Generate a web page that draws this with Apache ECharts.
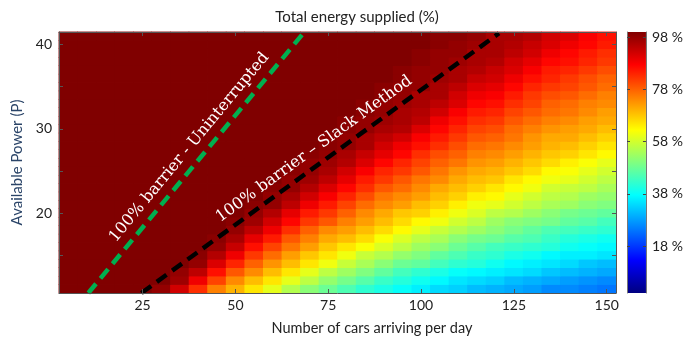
<!DOCTYPE html>
<html><head><meta charset="utf-8">
<script src="https://cdn.jsdelivr.net/npm/echarts@6/dist/echarts.min.js"></script>
<style>html,body{margin:0;padding:0;background:#fff}#c{width:686px;height:337px}</style>
</head><body><div id="c"></div>
<script>
// Number of cars arriving per day (column centres)
const cars = [5,10,15,20,25,30,35,40,45,50,55,60,65,70,75,80,85,90,95,100,105,110,115,120,125,130,135,140,145,150];
// Available power (row centres)
const powers = [11,12,13,14,15,16,17,18,19,20,21,22,23,24,25,26,27,28,29,30,31,32,33,34,35,36,37,38,39,40,41];
// Total energy supplied (%) per power row, one value per car column
const p11 = [100,100,100,100,100,98,92,83,75,70,65,60,55,51,48,45,42,40,38,36,34,33,31,30,29,28,26,26,25,24];
const p12 = [100,100,100,100,100,100,97,89,81,74,69,65,60,56,52,49,46,43,41,39,37,35,34,33,31,30,29,28,27,26];
const p13 = [100,100,100,100,100,100,98,94,86,79,74,69,65,60,56,53,50,47,44,42,40,38,37,36,35,34,32,31,30,29];
const p14 = [100,100,100,100,100,100,100,98,91,84,78,73,69,65,61,57,54,51,48,47,44,42,41,39,37,36,35,34,32,31];
const p15 = [100,100,100,100,100,100,100,99,95,89,82,77,72,68,65,61,57,55,52,50,47,45,43,42,40,39,37,36,36,35];
const p16 = [100,100,100,100,100,100,100,100,98,93,86,81,76,72,68,65,62,59,56,53,51,48,46,44,43,42,41,39,38,37];
const p17 = [100,100,100,100,100,100,100,100,99,96,90,85,79,75,71,69,66,62,59,56,54,51,49,48,46,45,43,41,40,39];
const p18 = [100,100,100,100,100,100,100,100,100,98,94,89,83,78,74,72,69,66,63,60,57,55,53,51,49,47,45,44,43,42];
const p19 = [100,100,100,100,100,100,100,100,100,99,97,92,87,82,79,75,72,69,66,63,61,58,56,53,51,50,49,47,46,44];
const p20 = [100,100,100,100,100,100,100,100,100,100,98,95,90,85,82,78,74,71,68,67,64,61,59,56,55,53,51,49,48,47];
const p21 = [100,100,100,100,100,100,100,100,100,100,99,98,94,89,85,81,77,74,72,69,67,64,61,60,58,56,54,53,51,50];
const p22 = [100,100,100,100,100,100,100,100,100,100,100,98,96,92,88,84,80,76,74,72,69,67,64,63,60,58,56,55,53,52];
const p23 = [100,100,100,100,100,100,100,100,100,100,100,99,98,95,91,87,83,79,77,74,71,69,67,65,63,61,58,57,56,54];
const p24 = [100,100,100,100,100,100,100,100,100,100,100,100,98,97,94,90,85,82,79,76,74,71,69,68,65,63,61,60,58,56];
const p25 = [100,100,100,100,100,100,100,100,100,100,100,100,99,98,96,92,88,84,82,79,76,73,71,70,68,66,63,62,60,58];
const p26 = [100,100,100,100,100,100,100,100,100,100,100,100,100,98,97,95,91,87,84,81,78,76,73,72,70,68,66,64,62,60];
const p27 = [100,100,100,100,100,100,100,100,100,100,100,100,100,99,98,96,93,90,87,83,80,78,75,74,72,70,68,67,65,63];
const p28 = [100,100,100,100,100,100,100,100,100,100,100,100,100,100,99,98,96,92,89,86,83,80,77,76,74,72,70,69,67,65];
const p29 = [100,100,100,100,100,100,100,100,100,100,100,100,100,100,99,98,96,94,92,88,85,82,79,78,76,73,71,71,69,67];
const p30 = [100,100,100,100,100,100,100,100,100,100,100,100,100,100,100,99,98,96,95,91,87,84,81,80,77,75,73,72,71,69];
const p31 = [100,100,100,100,100,100,100,100,100,100,100,100,100,100,100,99,98,97,96,94,89,86,83,82,79,77,75,74,72,71];
const p32 = [100,100,100,100,100,100,100,100,100,100,100,100,100,100,100,100,99,98,96,95,92,88,85,84,81,79,77,76,74,72];
const p33 = [100,100,100,100,100,100,100,100,100,100,100,100,100,100,100,100,99,98,97,96,94,91,87,86,83,81,78,77,75,74];
const p34 = [100,100,100,100,100,100,100,100,100,100,100,100,100,100,100,100,100,99,98,96,96,92,89,88,85,82,80,79,77,75];
const p35 = [100,100,100,100,100,100,100,100,100,100,100,100,100,100,100,100,100,99,98,98,96,94,91,90,87,84,82,81,79,77];
const p36 = [100,100,100,100,100,100,100,100,100,100,100,100,100,100,100,100,100,100,99,98,97,96,93,92,89,86,84,82,80,78];
const p37 = [100,100,100,100,100,100,100,100,100,100,100,100,100,100,100,100,100,100,99,98,98,96,95,93,91,88,85,84,82,80];
const p38 = [100,100,100,100,100,100,100,100,100,100,100,100,100,100,100,100,100,100,100,99,98,97,96,95,92,90,87,86,84,82];
const p39 = [100,100,100,100,100,100,100,100,100,100,100,100,100,100,100,100,100,100,100,99,98,98,96,96,94,92,89,87,85,83];
const p40 = [100,100,100,100,100,100,100,100,100,100,100,100,100,100,100,100,100,100,100,100,99,98,97,96,95,93,91,89,87,85];
const p41 = [100,100,100,100,100,100,100,100,100,100,100,100,100,100,100,100,100,100,100,100,99,99,98,96,96,95,92,91,88,86];
const rows = [p11,p12,p13,p14,p15,p16,p17,p18,p19,p20,p21,p22,p23,p24,p25,p26,p27,p28,p29,p30,p31,p32,p33,p34,p35,p36,p37,p38,p39,p40,p41];

// Axis ticks / labels
const xTicks = [25,50,75,100,125,150];
const yLabels = [20,30,40];
const yTicks = [15,20,25,30,35,40];
const cbTicks = [18,38,58,78,98];

// 100% barrier lines (cars, power)
const uninterruptedLine = [[10.4,10.5],[68.2,41.3]];
const slackLine = [[24.7,10.5],[121,41.35]];

const heat = [];
rows.forEach((r, i) => r.forEach((v, j) => heat.push([j, i, v])));

const jet = ['#000080','#0000ff','#0080ff','#00ffff','#80ff80','#ffff00','#ff8000','#ff0000','#800000'];
const FONT = 'Lato';
const AX = '#555';
const txt = {fontFamily: FONT, fontSize: 14, color: '#222'};

const chart = echarts.init(document.getElementById('c'), null, {renderer: 'canvas'});
const tickOnly = (extra) => Object.assign({
  z: 10,
  axisLine: {show: true, onZero: false, lineStyle: {color: AX, width: 1}},
  axisTick: {show: true, inside: true, length: 4, lineStyle: {color: AX}},
  axisLabel: {show: false},
  splitLine: {show: false}
}, extra);
const heatSeries = () => ({type: 'heatmap', xAxisIndex: 0, yAxisIndex: 0, data: heat,
  itemStyle: {borderWidth: 0}, emphasis: {disabled: true}, silent: true});

chart.setOption({
  animation: false,
  textStyle: {fontFamily: FONT},
  title: [
    {text: 'Total energy supplied (%)', left: 352, top: 5, textAlign: 'center',
     textStyle: {fontFamily: FONT, fontSize: 15, fontWeight: 'normal', color: '#222'}},
    {text: 'Number of cars arriving per day', left: 367, top: 316, textAlign: 'center',
     textStyle: {fontFamily: FONT, fontSize: 14.5, fontWeight: 'normal', color: '#222'}}
  ],
  grid: [
    {left: 59, top: 32, width: 557, height: 261},
    {left: 627, top: 32, width: 19, height: 261}
  ],
  visualMap: {show: false, type: 'continuous', min: 0, max: 100, seriesIndex: [0, 1], dimension: 2,
              inRange: {color: jet}},
  xAxis: [
    {type: 'category', gridIndex: 0, data: cars, show: false},
    tickOnly({type: 'value', gridIndex: 0, min: 2.5, max: 152.5, position: 'bottom',
      axisTick: {show: true, inside: true, length: 4, customValues: xTicks, lineStyle: {color: AX}},
      axisLabel: Object.assign({show: true, customValues: xTicks, margin: 5}, txt)}),
    tickOnly({type: 'value', gridIndex: 0, min: 2.5, max: 152.5, position: 'top',
      axisTick: {show: true, inside: true, length: 4, customValues: xTicks, lineStyle: {color: AX}}}),
    {type: 'category', gridIndex: 1, data: ['bar'], show: false}
  ],
  yAxis: [
    {type: 'category', gridIndex: 0, data: powers, show: false},
    tickOnly({type: 'value', gridIndex: 0, min: 10.5, max: 41.5, position: 'left',
      name: 'Available Power (P)', nameLocation: 'middle', nameGap: 28,
      nameTextStyle: {fontFamily: FONT, fontSize: 15, color: '#2a4468'},
      axisTick: {show: true, inside: true, length: 4, customValues: yTicks, lineStyle: {color: AX}},
      axisLabel: Object.assign({show: true, customValues: yLabels, margin: 7}, txt)}),
    tickOnly({type: 'value', gridIndex: 0, min: 10.5, max: 41.5, position: 'right',
      axisTick: {show: true, inside: true, length: 4, customValues: yTicks, lineStyle: {color: AX}}}),
    tickOnly({type: 'value', gridIndex: 1, min: 0, max: 100, position: 'right',
      axisLine: {show: true, onZero: false, lineStyle: {color: '#777'}},
      axisTick: {show: true, inside: true, length: 3, customValues: cbTicks, lineStyle: {color: '#444'}},
      axisLabel: Object.assign({show: true, customValues: cbTicks, margin: 6, formatter: '{value} %'}, txt)}),
    tickOnly({type: 'value', gridIndex: 1, min: 0, max: 100, position: 'left',
      axisLine: {show: true, onZero: false, lineStyle: {color: '#777'}},
      axisTick: {show: true, inside: true, length: 3, customValues: cbTicks, lineStyle: {color: '#444'}}})
  ],
  series: [
    heatSeries(),
    heatSeries(),
    {type: 'line', xAxisIndex: 1, yAxisIndex: 1, data: uninterruptedLine, symbol: 'none', silent: true, z: 5,
     lineStyle: {color: '#00b050', width: 4.5, type: [12, 7]}},
    {type: 'line', xAxisIndex: 1, yAxisIndex: 1, data: slackLine, symbol: 'none', silent: true, z: 5,
     lineStyle: {color: '#000000', width: 4.5, type: [12, 7]}},
    {type: 'bar', xAxisIndex: 3, yAxisIndex: 3, data: [100], barWidth: '100%', silent: true,
     itemStyle: {color: {type: 'linear', x: 0, y: 1, x2: 0, y2: 0,
       colorStops: jet.map((c, i) => ({offset: i / 8, color: c}))}}}
  ]
});

// Rotated annotations along the barrier lines
function label(line, at, text) {
  const a = chart.convertToPixel({seriesIndex: 2}, line[0]);
  const b = chart.convertToPixel({seriesIndex: 2}, line[1]);
  const p = chart.convertToPixel({seriesIndex: 2}, at);
  const ang = Math.atan2(a[1] - b[1], b[0] - a[0]);
  return {type: 'text', x: p[0], y: p[1], rotation: ang, z: 100, silent: true,
          style: {text: text, fill: '#ffffff', font: '16px "DejaVu Serif"', align: 'center', verticalAlign: 'middle'}};
}
chart.setOption({graphic: [
  label(uninterruptedLine, [37.6, 27.8], '100% barrier - Uninterrupted'),
  label(slackLine, [71.2, 27.6], '100% barrier \u2013 Slack Method')
]});
</script></body></html>
